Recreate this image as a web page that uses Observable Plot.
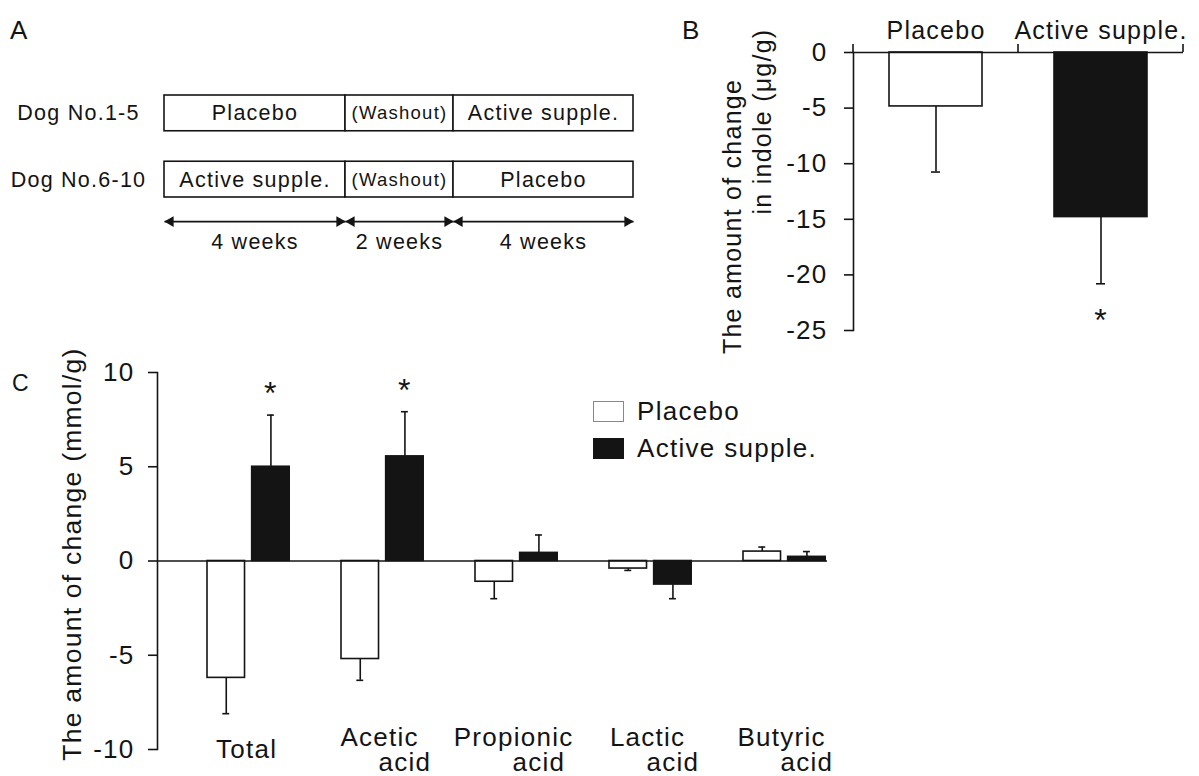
<!DOCTYPE html>
<html>
<head>
<meta charset="utf-8">
<script src="https://cdn.jsdelivr.net/npm/d3@7"></script>
<script src="https://cdn.jsdelivr.net/npm/@observablehq/plot@0.6"></script>
<style>
  html, body { margin: 0; padding: 0; background: #fff; }
  #fig { position: relative; width: 1199px; height: 776px; overflow: hidden; background: #fff;
         font-family: "Liberation Sans", Arial, sans-serif; color: #141414; }
  .panel { position: absolute; }
  .panel svg { overflow: visible; display: block; }
  .panel text { letter-spacing: 1.25px; }
  .letter { position: absolute; font-size: 26px; line-height: 1; }
  .legend { position: absolute; font-size: 26px; letter-spacing: 1.3px; }
  .legend .row { display: flex; align-items: center; height: 37px; }
  .legend .sw { width: 31px; height: 21px; box-sizing: border-box; margin-right: 13px; }
</style>
</head>
<body>
<div id="fig"></div>
<script>
// ---------------- Data ----------------
// Panel A: crossover design
const dogGroups = ["Dog No.1-5", "Dog No.6-10"];
const periodWeeks = [4, 2, 4];
const periodLabels = ["4 weeks", "2 weeks", "4 weeks"];
const group1Treatments = ["Placebo", "(Washout)", "Active supple."];
const group2Treatments = ["Active supple.", "(Washout)", "Placebo"];

// Shared series
const seriesNames = ["Placebo", "Active supple."];

// Panel B: indole change (µg/g)
const indoleGroups = ["Placebo", "Active supple."];
const indoleMean = [-4.85, -14.8];
const indoleSD = [5.9, 6.0];
const indoleSig = [false, true];
const indoleTicks = [0, -5, -10, -15, -20, -25];

// Panel C: SCFA change (mmol/g)
const acids = ["Total", "Acetic acid", "Propionic acid", "Lactic acid", "Butyric acid"];
const acidLabelLines = [["Total"], ["Acetic", "acid"], ["Propionic", "acid"], ["Lactic", "acid"], ["Butyric", "acid"]];
const placeboMean = [-6.2, -5.2, -1.1, -0.4, 0.5];
const placeboSD = [1.9, 1.13, 0.9, 0.1, 0.24];
const activeMean = [5.0, 5.55, 0.43, -1.25, 0.22];
const activeSD = [2.74, 2.37, 0.95, 0.75, 0.28];
const placeboSig = [false, false, false, false, false];
const activeSig = [true, true, false, false, false];
const scfaTicks = [-10, -5, 0, 5, 10];

// ---------------- Setup ----------------
const INK = "#141414";
const FONT = "'Liberation Sans', Arial, sans-serif";
const baseStyle = {fontFamily: FONT, color: INK, background: "transparent", overflow: "visible"};
const fig = document.getElementById("fig");
function place(node, left, top, w, h) {
  const d = document.createElement("div");
  d.className = "panel";
  d.style.left = left + "px"; d.style.top = top + "px";
  d.style.width = w + "px"; d.style.height = h + "px";
  d.appendChild(node); fig.appendChild(d);
}
function letter(t, left, top, size) {
  const d = document.createElement("div");
  d.className = "letter"; d.textContent = t;
  d.style.left = left + "px"; d.style.top = top + "px";
  if (size) d.style.fontSize = size + "px";
  fig.appendChild(d);
}
const sign = v => (v < 0 ? -1 : 1);
const color = {domain: seriesNames, range: ["white", INK]};

// ---------------- Panel A ----------------
const bounds = [0];
periodWeeks.forEach(w => bounds.push(bounds[bounds.length - 1] + w));
const schedule = [];
[group1Treatments, group2Treatments].forEach((tr, gi) =>
  tr.forEach((label, pi) => schedule.push({group: dogGroups[gi], x1: bounds[pi], x2: bounds[pi + 1], label}))
);
const periods = periodWeeks.map((w, i) => ({x1: bounds[i], x2: bounds[i + 1], label: periodLabels[i]}));
const arrowRow = () => dogGroups[dogGroups.length - 1];

const plotA = Plot.plot({
  width: 660, height: 270, marginLeft: 164, marginRight: 27, marginTop: 95, marginBottom: 73,
  style: baseStyle,
  x: {type: "linear", domain: bounds, range: [164, 345, 453, 633], axis: null},
  y: {type: "band", domain: dogGroups, paddingInner: 0.46, paddingOuter: 0, round: false, axis: null},
  marks: [
    Plot.barX(schedule, {x1: "x1", x2: "x2", y: "group", fill: "white", stroke: INK, strokeWidth: 1.6}),
    Plot.text(schedule, {x: d => (d.x1 + d.x2) / 2, y: "group", text: "label",
      fontSize: d => (d.label === "(Washout)" ? 18.5 : 21.5), fill: INK}),
    Plot.axisY({tickSize: 0, tickPadding: 86, textAnchor: "middle", fontSize: 21.5, label: null, fill: INK}),
    Plot.link(periods, {x1: "x1", x2: "x2", y1: arrowRow, y2: arrowRow, dy: 42, stroke: INK, strokeWidth: 1.6}),
    Plot.dot(periods, {x: "x2", y: arrowRow, dy: 42, dx: -6, symbol: "triangle", rotate: 90, r: 4, fill: INK, stroke: "none"}),
    Plot.dot(periods, {x: "x1", y: arrowRow, dy: 42, dx: 6, symbol: "triangle", rotate: -90, r: 4, fill: INK, stroke: "none"}),
    Plot.text(periods, {x: d => (d.x1 + d.x2) / 2, y: arrowRow, dy: 62, text: "label", fontSize: 21.5, fill: INK})
  ]
});
place(plotA, 0, 0, 660, 270);

// ---------------- Panel B ----------------
const bData = indoleGroups.map((g, i) => ({group: g, mean: indoleMean[i], sd: indoleSD[i], sig: indoleSig[i]}));

function bandBoundaryTicks(index, scales, values, dimensions) {
  const {marginLeft, marginRight, width} = dimensions;
  const sx = scales.x;
  let xs;
  if (sx && typeof sx.bandwidth === "function" && typeof sx.step === "function") {
    const dom = sx.domain();
    xs = dom.map(d => sx(d));
    xs.push(xs[xs.length - 1] + sx.step());
  } else {
    const n = indoleGroups.length, w = (width - marginLeft - marginRight) / n;
    xs = d3.range(n + 1).map(i => marginLeft + i * w);
  }
  const y0 = scales.y(0);
  const g = d3.create("svg:g").attr("stroke", INK).attr("stroke-width", 1.6);
  xs.forEach(x => g.append("line").attr("x1", x).attr("x2", x).attr("y1", y0).attr("y2", y0 - 8));
  return g.node();
}

const plotB = Plot.plot({
  width: 539, height: 350, marginLeft: 193, marginRight: 16, marginTop: 52, marginBottom: 20,
  style: baseStyle,
  x: {type: "band", domain: indoleGroups, padding: 0, round: false, axis: null},
  y: {domain: [-25, 0], axis: null},
  color,
  marks: [
    Plot.ruleX(bData, {x: "group", y1: "mean", y2: d => d.mean + sign(d.mean) * d.sd, stroke: INK, strokeWidth: 1.6}),
    Plot.tickY(bData, {x: "group", y: d => d.mean + sign(d.mean) * d.sd, stroke: INK, strokeWidth: 1.6, insetLeft: 78, insetRight: 78}),
    Plot.barY(bData, {x: "group", y: "mean", fill: "group", stroke: INK, strokeWidth: 1.6, insetLeft: 36, insetRight: 36}),
    Plot.ruleY([0], {stroke: INK, strokeWidth: 1.6}),
    Plot.frame({anchor: "left", stroke: INK, strokeWidth: 1.6}),
    bandBoundaryTicks,
    Plot.axisY({ticks: indoleTicks, tickSize: 9, tickPadding: 17, tickFormat: d => String(d),
      fontSize: 26, label: null, stroke: INK, strokeWidth: 1.6, fill: INK}),
    Plot.axisX({anchor: "top", tickSize: 0, tickPadding: 14, fontSize: 25, label: null, fill: INK}),
    Plot.text(bData.filter(d => d.sig), {x: "group", y: d => d.mean + sign(d.mean) * d.sd, text: () => "*",
      dy: 37, fontSize: 32, fill: INK}),
    Plot.text(["The amount of change"], {text: d => d, frameAnchor: "left", textAnchor: "middle", lineAnchor: "middle",
      rotate: -90, dx: -121, dy: 25, fontSize: 25, fill: INK}),
    Plot.text(["in indole (μg/g)"], {text: d => d, frameAnchor: "left", textAnchor: "middle", lineAnchor: "middle",
      rotate: -90, dx: -91, dy: -70, fontSize: 25, fill: INK})
  ]
});
place(plotB, 660, 0, 539, 350);

// ---------------- Panel C ----------------
const slotKey = (cat, s) => cat + "|" + s;
const slots = [];
acids.forEach((c, i) => {
  slots.push(slotKey(c, "P"), slotKey(c, "A"));
  if (i < acids.length - 1) slots.push(slotKey(c, "gap"));
});
const cData = [];
acids.forEach((c, i) => {
  cData.push({cat: c, series: seriesNames[0], slot: slotKey(c, "P"), mean: placeboMean[i], sd: placeboSD[i], sig: placeboSig[i]});
  cData.push({cat: c, series: seriesNames[1], slot: slotKey(c, "A"), mean: activeMean[i], sd: activeSD[i], sig: activeSig[i]});
});
const cLabels = acids.map((c, i) => ({cat: c, lines: acidLabelLines[i]}));

const C_W = 900, C_ML = 157, C_MR = 73;
const C_PI = 0.16, C_PO = 0.58, C_ALIGN = 0.965;
const cStep = (C_W - C_ML - C_MR) / (slots.length - C_PI + 2 * C_PO);
const errEnd = d => d.mean + sign(d.mean) * d.sd;

const plotC = Plot.plot({
  width: C_W, height: 446, marginLeft: C_ML, marginRight: C_MR, marginTop: 42, marginBottom: 27,
  style: baseStyle,
  x: {type: "band", domain: slots, paddingInner: C_PI, paddingOuter: C_PO, align: C_ALIGN, round: false, axis: null},
  y: {domain: [-10, 10], axis: null},
  color,
  marks: [
    Plot.ruleX(cData, {x: "slot", y1: "mean", y2: errEnd, stroke: INK, strokeWidth: 1.6}),
    Plot.tickY(cData, {x: "slot", y: errEnd, stroke: INK, strokeWidth: 1.6, insetLeft: 15.3, insetRight: 15.3}),
    Plot.barY(cData, {x: "slot", y: "mean", fill: "series", stroke: INK, strokeWidth: 1.6}),
    Plot.ruleY([0], {stroke: INK, strokeWidth: 1.6}),
    Plot.frame({anchor: "left", stroke: INK, strokeWidth: 1.6}),
    Plot.axisY({ticks: scfaTicks, tickSize: 9, tickPadding: 14, tickFormat: d => String(d),
      fontSize: 26, label: null, stroke: INK, strokeWidth: 1.6, fill: INK}),
    Plot.text(cData.filter(d => d.sig), {x: "slot", y: errEnd, text: () => "*", dy: -21, fontSize: 32, fill: INK}),
    // category labels
    Plot.text(cLabels.filter(d => d.lines.length === 1), {x: d => slotKey(d.cat, "P"), text: d => d.lines[0],
      frameAnchor: "bottom", lineAnchor: "middle", dx: cStep / 2 - 2, dy: 0, fontSize: 26, fill: INK}),
    Plot.text(cLabels.filter(d => d.lines.length > 1), {x: d => slotKey(d.cat, "P"), text: d => d.lines[0],
      frameAnchor: "bottom", lineAnchor: "middle", dx: cStep / 2 - 3, dy: -12, fontSize: 26, fill: INK}),
    Plot.text(cLabels.filter(d => d.lines.length > 1), {x: d => slotKey(d.cat, "A"), text: d => d.lines[1],
      frameAnchor: "bottom", lineAnchor: "middle", dy: 13, fontSize: 26, fill: INK}),
    Plot.text(["The amount of change (mmol/g)"], {text: d => d, frameAnchor: "left", textAnchor: "middle", lineAnchor: "middle",
      rotate: -90, dx: -85, dy: -7, fontSize: 26.5, fill: INK})
  ]
});
place(plotC, 0, 330, C_W, 446);

// Legend (panel C)
const legend = document.createElement("div");
legend.className = "legend";
legend.style.left = "593px"; legend.style.top = "393px";
seriesNames.forEach((s, i) => {
  const row = document.createElement("div"); row.className = "row";
  const sw = document.createElement("div"); sw.className = "sw";
  sw.style.background = color.range[i];
  sw.style.border = i === 0 ? "1.5px solid #888" : "1.5px solid " + INK;
  const tx = document.createElement("span"); tx.textContent = s;
  row.appendChild(sw); row.appendChild(tx); legend.appendChild(row);
});
fig.appendChild(legend);

// Panel letters
letter("A", 10, 17);
letter("B", 682, 17);
letter("C", 12, 372, 23);
</script>
</body>
</html>
